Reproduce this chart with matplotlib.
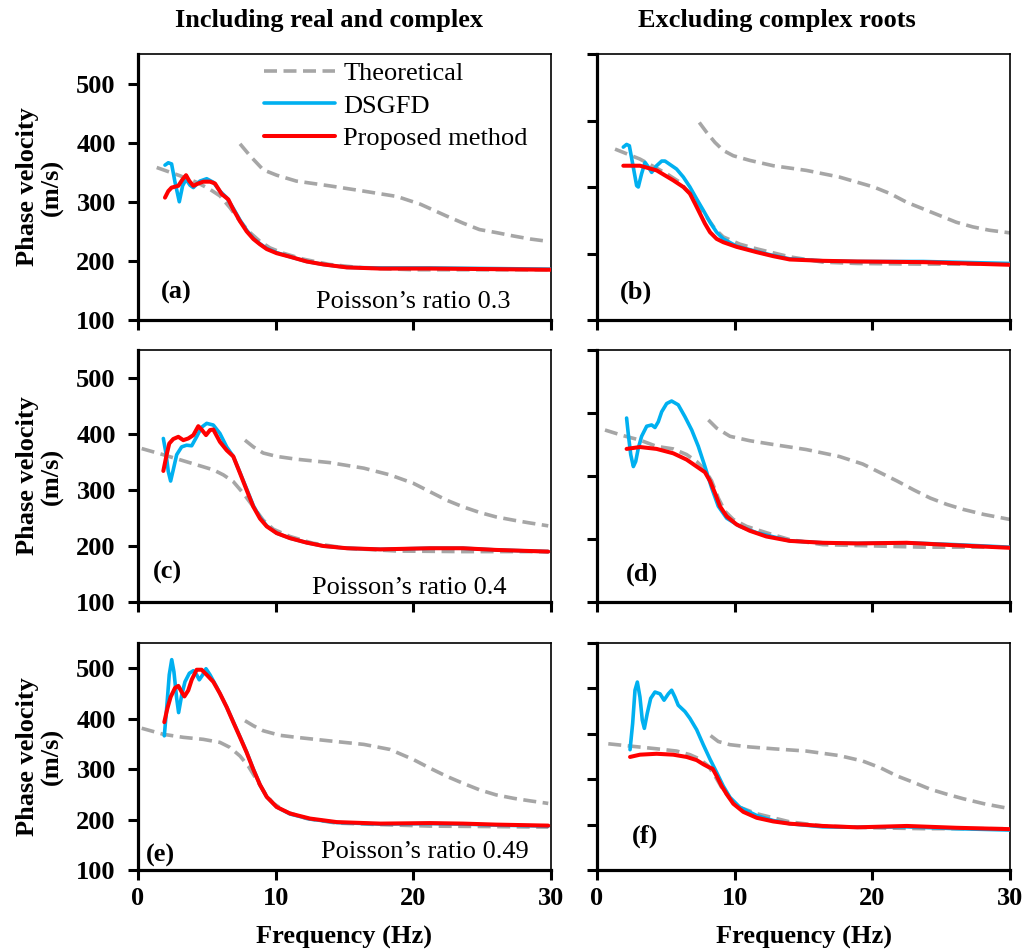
import numpy as np
import matplotlib
matplotlib.use("Agg")
import matplotlib.pyplot as plt

plt.rcParams['font.family'] = ['Liberation Serif', 'DejaVu Serif']

# ---------------- data (frequency Hz, phase velocity m/s) ----------------
# Panel (a)
a_theo1_f = [1.36, 3.05, 4.26, 5.23, 5.95, 6.68, 7.41, 8.13, 8.86, 9.59, 10.55, 12.0, 13.9, 16.4, 20.0, 25.0, 29.8]
a_theo1_v = [358, 344, 333, 321, 310, 290, 267, 248, 233, 222, 213, 203, 194, 188, 185, 185, 185]
a_theo2_f = [7.41, 8.13, 9.1, 10.07, 11.5, 13.9, 16.4, 18.8, 20.5, 22.4, 23.6, 24.8, 26.0, 27.3, 28.5, 29.8]
a_theo2_v = [398, 378, 354, 345, 335, 327, 318, 309, 296, 276, 264, 253, 248, 242, 237, 233]
a_dsgfd_f = [1.96, 2.2, 2.44, 2.69, 3.0, 3.24, 3.49, 3.78, 4.02, 4.5, 4.99, 5.47, 5.95, 6.44, 6.92, 7.41, 7.89, 8.38, 8.86, 9.35,
             10.07, 11.04, 12.25, 13.46, 15.16, 17.6, 21.2, 26.0, 30.0]
a_dsgfd_v = [362, 366, 364, 333, 300, 327, 338, 328, 324, 335, 339, 333, 318, 307, 289, 269, 252, 238, 229, 221,
             214, 207, 199, 194, 189, 188, 188, 187, 186]
a_prop_f = [1.96, 2.2, 2.44, 2.93, 3.24, 3.49, 3.73, 4.02, 4.38, 4.74, 5.23, 5.59, 6.08, 6.56, 6.92, 7.41, 7.89, 8.38, 8.86, 9.35,
            10.07, 11.04, 12.25, 13.46, 15.16, 17.6, 21.2, 26.0, 30.0]
a_prop_v = [307, 318, 324, 327, 338, 345, 335, 327, 331, 334, 334, 331, 313, 304, 287, 267, 250, 237, 228, 220,
            213, 207, 199, 194, 189, 187, 187, 186, 185]

# Panel (b)
b_theo1_f = [1.31, 3.12, 5.06, 6.03, 6.75, 7.36, 7.97, 8.57, 9.17, 10.38, 11.6, 14.0, 16.4, 18.9, 23.7, 30.0]
b_theo1_v = [357, 342, 320, 307, 290, 272, 255, 237, 225, 214, 207, 195, 187, 185, 184, 184]
b_theo2_f = [7.43, 7.97, 8.57, 9.17, 9.9, 11.1, 12.8, 15.2, 17.6, 20.1, 21.3, 22.5, 23.7, 24.9, 26.1, 27.3, 28.5, 30.0]
b_theo2_v = [397, 382, 367, 355, 347, 340, 332, 325, 315, 300, 290, 277, 267, 257, 247, 240, 235, 231]
b_dsgfd_f = [1.91, 2.15, 2.35, 2.59, 2.88, 3.0, 3.24, 3.49, 3.73, 3.97, 4.33, 4.7, 4.94, 5.78, 6.27, 6.75, 7.24, 7.72, 8.21, 8.69,
             9.17, 10.14, 11.6, 12.8, 14.0, 16.4, 18.9, 23.7, 30.0]
b_dsgfd_v = [360, 364, 362, 335, 302, 300, 320, 337, 330, 322, 332, 339, 339, 327, 315, 300, 282, 265, 247, 232,
             222, 211, 203, 197, 192, 189, 188, 188, 185]
b_prop_f = [1.91, 3.12, 4.33, 5.54, 6.27, 6.75, 7.12, 7.48, 7.84, 8.21, 8.69, 9.17, 10.14, 11.6, 12.8, 14.0, 16.4, 18.9, 23.7, 30.0]
b_prop_v = [332, 332, 325, 310, 300, 290, 275, 260, 245, 232, 222, 217, 210, 202, 196, 191, 189, 188, 187, 183]

# Panel (c)
c_theo1_f = [0.27, 1.84, 3.05, 4.26, 5.47, 6.2, 6.92, 7.65, 8.38, 9.1, 9.83, 11.04, 12.7, 15.16, 18.8, 23.6, 29.8]
c_theo1_v = [374, 363, 354, 345, 336, 327, 315, 294, 270, 246, 230, 217, 205, 196, 191, 190, 190]
c_theo2_f = [7.77, 8.38, 9.1, 10.07, 11.5, 13.9, 16.4, 18.3, 20.0, 21.2, 22.4, 23.6, 24.8, 26.0, 27.3, 28.5, 29.8]
c_theo2_v = [389, 377, 366, 360, 355, 349, 339, 327, 312, 297, 282, 270, 260, 252, 246, 241, 236]
c_dsgfd_f = [1.84, 2.03, 2.2, 2.37, 2.56, 2.81, 3.17, 3.53, 3.9, 4.26, 4.62, 4.99, 5.47, 5.95, 6.44, 6.92, 7.41, 7.89, 8.38, 8.86,
             9.35, 10.07, 11.04, 12.25, 13.46, 15.16, 17.6, 21.2, 23.6, 26.0, 29.8]
c_dsgfd_v = [392, 366, 333, 316, 336, 363, 377, 380, 379, 395, 412, 419, 416, 401, 377, 360, 331, 302, 272, 251,
             236, 223, 214, 206, 200, 196, 194, 196, 196, 193, 190]
c_prop_f = [1.84, 2.08, 2.27, 2.56, 2.93, 3.29, 3.65, 4.02, 4.38, 4.62, 4.94, 5.23, 5.47, 5.95, 6.44, 6.92, 7.41, 7.89, 8.38, 8.86,
            9.35, 10.07, 11.04, 12.25, 13.46, 15.16, 17.6, 21.2, 23.6, 26.0, 29.8]
c_prop_v = [334, 363, 383, 391, 395, 389, 392, 398, 414, 408, 398, 407, 408, 386, 371, 360, 330, 300, 270, 249,
            235, 223, 214, 206, 200, 196, 194, 196, 196, 193, 190]

# Panel (d)
d_theo1_f = [0.58, 1.91, 3.12, 4.33, 5.54, 6.51, 7.24, 7.84, 8.33, 8.81, 9.3, 9.9, 10.87, 12.3, 14.0, 16.4, 20.1, 23.7, 30.0]
d_theo1_v = [373, 364, 357, 347, 343, 334, 323, 310, 292, 265, 244, 231, 220, 210, 199, 191, 189, 187, 187]
d_theo2_f = [8.09, 8.69, 9.66, 11.1, 12.8, 15.2, 17.6, 19.3, 20.6, 21.8, 23.0, 24.2, 25.4, 26.6, 28.1, 30.0]
d_theo2_v = [389, 376, 363, 356, 350, 342, 331, 319, 305, 292, 278, 265, 255, 247, 239, 231]
d_dsgfd_f = [2.15, 2.28, 2.45, 2.64, 2.81, 3.0, 3.24, 3.61, 3.97, 4.21, 4.45, 4.7, 5.06, 5.42, 5.9, 6.39, 6.88, 7.36, 7.84, 8.33,
             8.81, 9.42, 10.38, 11.6, 14.0, 16.4, 18.9, 22.5, 26.1, 30.0]
d_dsgfd_v = [392, 365, 334, 315, 323, 344, 363, 379, 381, 377, 386, 402, 415, 419, 413, 394, 373, 347, 315, 281,
             252, 233, 220, 210, 197, 194, 193, 194, 191, 187]
d_prop_f = [2.15, 3.12, 4.33, 5.54, 6.51, 7.24, 7.84, 8.21, 8.57, 8.93, 9.42, 10.14, 11.1, 12.3, 14.0, 16.4, 18.9, 22.5, 26.1, 30.0]
d_prop_v = [343, 346, 343, 336, 326, 315, 306, 292, 273, 252, 236, 223, 213, 204, 197, 194, 193, 194, 190, 186]

# Panel (e)
e_theo1_f = [0.27, 1.84, 3.29, 4.74, 5.95, 6.68, 7.41, 8.01, 8.62, 9.22, 9.83, 10.8, 12.25, 14.43, 17.6, 21.2, 26.0, 29.8]
e_theo1_v = [381, 369, 363, 359, 353, 343, 326, 306, 279, 252, 232, 215, 202, 193, 190, 187, 186, 185]
e_theo2_f = [7.77, 8.38, 9.1, 10.31, 11.5, 13.9, 16.4, 18.3, 20.0, 21.2, 22.4, 23.6, 24.8, 26.0, 27.3, 28.5, 29.8]
e_theo2_v = [396, 386, 376, 367, 363, 356, 349, 339, 319, 302, 286, 272, 259, 249, 242, 237, 232]
e_dsgfd_f = [1.91, 2.08, 2.27, 2.45, 2.61, 2.81, 2.95, 3.17, 3.41, 3.73, 4.02, 4.26, 4.45, 4.7, 4.94, 5.23, 5.71, 6.44, 6.92, 7.41,
             7.89, 8.38, 8.86, 9.35, 10.07, 11.04, 12.49, 14.43, 17.6, 21.2, 23.6, 26.0, 29.8]
e_dsgfd_v = [366, 420, 487, 517, 493, 440, 412, 446, 473, 490, 495, 487, 477, 487, 499, 487, 463, 423, 394, 364,
             334, 300, 269, 245, 225, 211, 201, 194, 191, 192, 191, 189, 187]
e_prop_f = [1.91, 2.13, 2.37, 2.69, 2.93, 3.17, 3.37, 3.65, 3.9, 4.26, 4.62, 4.99, 5.47, 5.95, 6.44, 6.92, 7.41, 7.89, 8.38, 8.86,
            9.35, 10.07, 11.04, 12.49, 14.43, 17.6, 21.2, 23.6, 26.0, 29.8]
e_prop_v = [393, 420, 443, 461, 465, 453, 444, 456, 477, 497, 497, 487, 473, 450, 423, 393, 363, 333, 299, 269,
            245, 225, 212, 202, 195, 192, 193, 192, 190, 188]

# Panel (f)
f_theo1_f = [0.82, 2.4, 4.33, 5.78, 6.75, 7.48, 8.09, 8.57, 9.05, 9.66, 10.38, 11.6, 14.0, 16.4, 20.1, 23.7, 30.0]
f_theo1_v = [378, 373, 367, 362, 354, 344, 329, 307, 282, 257, 238, 224, 206, 197, 193, 191, 191]
f_theo2_f = [8.25, 8.81, 9.66, 11.1, 12.8, 15.2, 17.6, 19.3, 20.6, 21.8, 23.0, 24.2, 25.4, 26.6, 28.1, 30.0]
f_theo2_v = [396, 383, 376, 371, 367, 362, 352, 340, 325, 307, 293, 278, 267, 257, 246, 235]
f_dsgfd_f = [2.4, 2.59, 2.76, 2.93, 3.12, 3.29, 3.44, 3.65, 3.9, 4.21, 4.58, 4.87, 5.18, 5.42, 5.66, 5.9, 6.39, 6.75, 7.24, 7.72,
             8.21, 8.69, 9.17, 9.66, 10.38, 11.6, 12.8, 14.0, 16.4, 18.9, 22.5, 26.1, 30.0]
f_dsgfd_v = [365, 423, 496, 514, 481, 430, 412, 445, 478, 492, 488, 474, 488, 496, 481, 463, 449, 434, 409, 376,
             344, 315, 285, 260, 238, 220, 209, 202, 195, 194, 195, 191, 188]
f_prop_f = [2.4, 3.12, 4.33, 5.54, 6.51, 7.24, 7.72, 8.09, 8.4, 8.69, 9.05, 9.42, 9.9, 10.63, 11.6, 12.8, 14.0, 16.4, 18.9, 22.5, 26.1, 30.0]
f_prop_v = [349, 354, 356, 354, 349, 342, 333, 327, 323, 307, 285, 267, 246, 228, 215, 207, 202, 197, 194, 197, 193, 190]

panel_labels = ["(a)", "(b)", "(c)", "(d)", "(e)", "(f)"]
poisson_labels = ["Poisson\u2019s ratio 0.3", "Poisson\u2019s ratio 0.4", "Poisson\u2019s ratio 0.49"]
column_titles = ["Including real and complex", "Excluding complex roots"]
series_names = ["Theoretical", "DSGFD", "Proposed method"]
x_ticks = [0, 10, 20, 30]
y_ticks = [100, 200, 300, 400, 500]

panels = [
    (a_theo1_f, a_theo1_v, a_theo2_f, a_theo2_v, a_dsgfd_f, a_dsgfd_v, a_prop_f, a_prop_v),
    (b_theo1_f, b_theo1_v, b_theo2_f, b_theo2_v, b_dsgfd_f, b_dsgfd_v, b_prop_f, b_prop_v),
    (c_theo1_f, c_theo1_v, c_theo2_f, c_theo2_v, c_dsgfd_f, c_dsgfd_v, c_prop_f, c_prop_v),
    (d_theo1_f, d_theo1_v, d_theo2_f, d_theo2_v, d_dsgfd_f, d_dsgfd_v, d_prop_f, d_prop_v),
    (e_theo1_f, e_theo1_v, e_theo2_f, e_theo2_v, e_dsgfd_f, e_dsgfd_v, e_prop_f, e_prop_v),
    (f_theo1_f, f_theo1_v, f_theo2_f, f_theo2_v, f_dsgfd_f, f_dsgfd_v, f_prop_f, f_prop_v),
]

# ---------------- layout ----------------
W, H = 1027, 949
fig = plt.figure(figsize=(W / 100, H / 100), dpi=100)

col_x = [138, 597]
col_w = 413
rows = [(54, 320), (350, 602), (643, 870)]
ylims_left = (100, 550)
ylims_right = [(100, 500), (100, 500), (100, 600)]
right_ticks = [[100, 200, 300, 400, 500], [100, 200, 300, 400, 500], [100, 200, 300, 400, 500, 600]]

label_pos = [(0.055, 0.105), (0.055, 0.105), (0.035, 0.116), (0.07, 0.11), (0.018, 0.062), (0.085, 0.148)]
poisson_pos = [(0.902, 0.068), (0.892, 0.056), (0.945, 0.08)]

theo_c = '#A6A6A6'
dsg_c = '#00B0F0'
prop_c = '#FF0000'
FS = 19
dash = (0, (3.6, 1.8))

for i, data in enumerate(panels):
    r, c = divmod(i, 2)
    top, bot = rows[r]
    ax = fig.add_axes([col_x[c] / W, 1 - bot / H, col_w / W, (bot - top) / H])
    t1f, t1v, t2f, t2v, df_, dv, pf, pv = data
    l1, = ax.plot(t1f, t1v, color=theo_c, lw=2.6, ls=dash, zorder=2)
    ax.plot(t2f, t2v, color=theo_c, lw=2.6, ls=dash, zorder=2)
    l2, = ax.plot(df_, dv, color=dsg_c, lw=2.6, zorder=3, solid_joinstyle='round', solid_capstyle='round')
    l3, = ax.plot(pf, pv, color=prop_c, lw=2.9, zorder=4, solid_joinstyle='round', solid_capstyle='round')
    ax.set_xlim(0, 30)
    ax.set_xticks(x_ticks)
    if c == 0:
        ax.set_ylim(*ylims_left)
        ax.set_yticks(y_ticks)
        ax.set_yticklabels([str(t) for t in y_ticks], fontsize=FS, fontweight='bold')
        ax.set_ylabel("Phase velocity\n(m/s)", fontsize=FS, fontweight='bold', labelpad=9, linespacing=1.1)
    else:
        ax.set_ylim(*ylims_right[r])
        ax.set_yticks(right_ticks[r])
        ax.set_yticklabels([])
    if r == 2:
        ax.set_xticklabels([str(t) for t in x_ticks], fontsize=FS, fontweight='bold')
        ax.set_xlabel("Frequency (Hz)", fontsize=FS, fontweight='bold', labelpad=12)
    else:
        ax.set_xticklabels([])
    ax.tick_params(axis='both', direction='out', length=7, width=2.2, pad=9, colors='black')
    ax.tick_params(axis='x', pad=5)
    for s in ['left', 'bottom']:
        ax.spines[s].set_linewidth(2.3)
    for s in ['top', 'right']:
        ax.spines[s].set_linewidth(1.2)
    ax.text(label_pos[i][0], label_pos[i][1], panel_labels[i], transform=ax.transAxes,
            fontsize=FS, fontweight='bold', ha='left', va='center')
    if c == 0:
        ax.text(poisson_pos[r][0], poisson_pos[r][1], poisson_labels[r], transform=ax.transAxes,
                fontsize=FS, ha='right', va='center')
    if i == 0:
        ax.legend([l1, l2, l3], series_names, loc='upper left', bbox_to_anchor=(0.305, 0.972),
                  frameon=False, fontsize=FS, handlelength=2.7, handletextpad=0.3,
                  labelspacing=0.35, borderpad=0.0, borderaxespad=0.0)

fig.text(329 / W, 1 - 20 / H, column_titles[0], fontsize=FS, fontweight='bold', ha='center', va='center')
fig.text(777 / W, 1 - 20 / H, column_titles[1], fontsize=FS, fontweight='bold', ha='center', va='center')

fig.savefig("out.png", dpi=100)
